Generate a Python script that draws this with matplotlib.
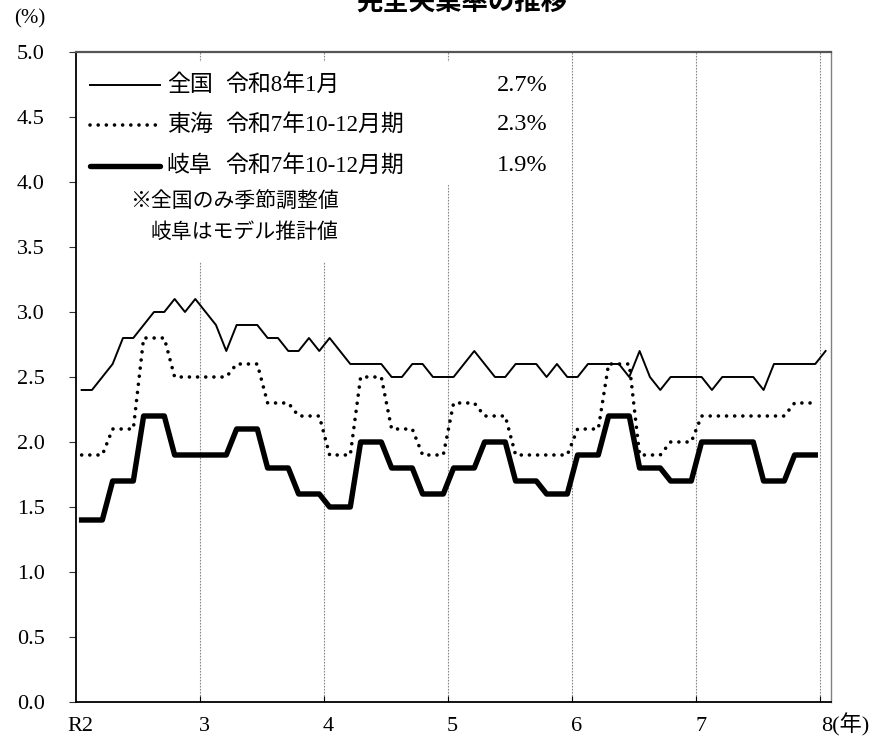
import numpy as np
import matplotlib
matplotlib.use("Agg")
import matplotlib.pyplot as plt
from matplotlib.patches import Rectangle

plt.rcParams['font.family'] = ['Liberation Serif', 'Noto Sans CJK JP']

# monthly national rate, R2.1 - R8.1 (seasonally adjusted)
zenkoku = [2.4, 2.4, 2.5, 2.6, 2.8, 2.8, 2.9, 3.0, 3.0, 3.1, 3.0, 3.1,
           3.0, 2.9, 2.7, 2.9, 2.9, 2.9, 2.8, 2.8, 2.7, 2.7, 2.8, 2.7,
           2.8, 2.7, 2.6, 2.6, 2.6, 2.6, 2.5, 2.5, 2.6, 2.6, 2.5, 2.5,
           2.5, 2.6, 2.7, 2.6, 2.5, 2.5, 2.6, 2.6, 2.6, 2.5, 2.6, 2.5,
           2.5, 2.6, 2.6, 2.6, 2.6, 2.5, 2.7, 2.5, 2.4, 2.5, 2.5, 2.5,
           2.5, 2.4, 2.5, 2.5, 2.5, 2.5, 2.4, 2.6, 2.6, 2.6, 2.6, 2.6,
           2.7]
# quarterly values, R2 1-3月期 - R7 10-12月期
tokai = [1.9, 2.1, 2.8, 2.5, 2.5, 2.6, 2.3, 2.2, 1.9, 2.5, 2.1, 1.9,
         2.3, 2.2, 1.9, 1.9, 2.1, 2.6, 1.9, 2.0, 2.2, 2.2, 2.2, 2.3]
gifu = [1.4, 1.7, 2.2, 1.9, 1.9, 2.1, 1.8, 1.6, 1.5, 2.0, 1.8, 1.6,
        1.8, 2.0, 1.7, 1.6, 1.9, 2.2, 1.8, 1.7, 2.0, 2.0, 1.7, 1.9]

year_labels = ['R2', '3', '4', '5', '6', '7', '8(年)']
legend_rows = [('全国', '令和8年1月', '2.7%'),
               ('東海', '令和7年10-12月期', '2.3%'),
               ('岐阜', '令和7年10-12月期', '1.9%')]

# quarterly figures are plotted once per month of the quarter
tokai_m = np.repeat(tokai, 3)
gifu_m = np.repeat(gifu, 3)

fig = plt.figure(figsize=(8.72, 7.4), dpi=100)
ax = fig.add_axes([0.0877, 0.05135, 0.865, 0.8784])

ax.plot(np.arange(len(zenkoku)), zenkoku, color='black', lw=1.4, zorder=3)
ax.plot(np.arange(len(tokai_m)), tokai_m, color='black', lw=2.6,
        linestyle=(0, (0.01, 2.25)), dash_capstyle='round', zorder=3)
ax.plot(np.arange(len(gifu_m)), gifu_m, color='black', lw=3.9, zorder=3)

ax.set_xlim(-0.5, 72.5)
ax.set_ylim(0, 5.0)

# year boundaries
bounds = [11.5 + 12 * k for k in range(6)]
ax.set_xticks(bounds)
ax.set_xticklabels([])
ax.tick_params(axis='x', which='major', direction='in', length=4, color='black')
ax.set_xticks([-0.1] + [b + 0.4 for b in bounds[:-1]] + [71.56], minor=True)
ax.set_xticklabels(year_labels, minor=True, fontsize=16)
ax.tick_params(axis='x', which='minor', length=0, pad=21)
for lab in ax.get_xticklabels(minor=True):
    lab.set_verticalalignment('baseline')
ax.get_xticklabels(minor=True)[-1].set_horizontalalignment('left')
ax.grid(axis='x', which='major', color='#888888', lw=0.8, linestyle=(0, (1.5, 1.2)))

ax.set_yticks(np.arange(0, 5.01, 0.5))
ax.set_yticklabels([f'{v:.1f}' for v in np.arange(0, 5.01, 0.5)], fontsize=16)
ax.tick_params(axis='y', direction='out', length=5, pad=18, color='#333333')

ax.spines['left'].set_linewidth(1.3)
ax.spines['bottom'].set_linewidth(1.3)
ax.spines['top'].set_color('#555555')
ax.spines['top'].set_linewidth(1.6)
ax.spines['right'].set_color('#808080')
ax.spines['right'].set_linewidth(1.0)

# white boxes behind legend and note (hide gridlines)
ax.add_patch(Rectangle((0.005, 0.795), 0.636, 0.19, transform=ax.transAxes,
                       facecolor='white', edgecolor='none', zorder=2.5))
ax.add_patch(Rectangle((0.044, 0.677), 0.312, 0.12, transform=ax.transAxes,
                       facecolor='white', edgecolor='none', zorder=2.5))

row_y = [0.949, 0.8877, 0.8246]
styles = [dict(lw=1.4, linestyle='-'),
          dict(lw=2.6, linestyle=(0, (0.01, 2.25)), dash_capstyle='round'),
          dict(lw=3.9, linestyle='-', solid_capstyle='round')]
for (name, period, val), y, st in zip(legend_rows, row_y, styles):
    ax.plot([0.0178, 0.1107], [y, y], transform=ax.transAxes, color='black',
            zorder=4, clip_on=False, **st)
    ax.text(0.1196, y, name, transform=ax.transAxes, fontsize=16.5,
            va='center', ha='left', zorder=4)
    ax.text(0.197, y, period, transform=ax.transAxes, fontsize=16.5,
            va='center', ha='left', zorder=4)
    ax.text(0.557, y, val, transform=ax.transAxes, fontsize=17.5,
            va='center', ha='left', zorder=4)

ax.text(0.071, 0.7677, '※全国のみ季節調整値', transform=ax.transAxes,
        fontsize=15, va='center', ha='left', zorder=4)
ax.text(0.0975, 0.7215, '岐阜はモデル推計値', transform=ax.transAxes,
        fontsize=15, va='center', ha='left', zorder=4)

fig.text(30 / 872, 1 - 19 / 740, '(%)', fontsize=15, ha='center', va='center')
fig.text(462 / 872, 1 - 2 / 740, '完全失業率の推移', fontsize=19,
         fontweight='bold', family='Noto Sans CJK JP', ha='center', va='center')

fig.savefig('out.png', dpi=100)
